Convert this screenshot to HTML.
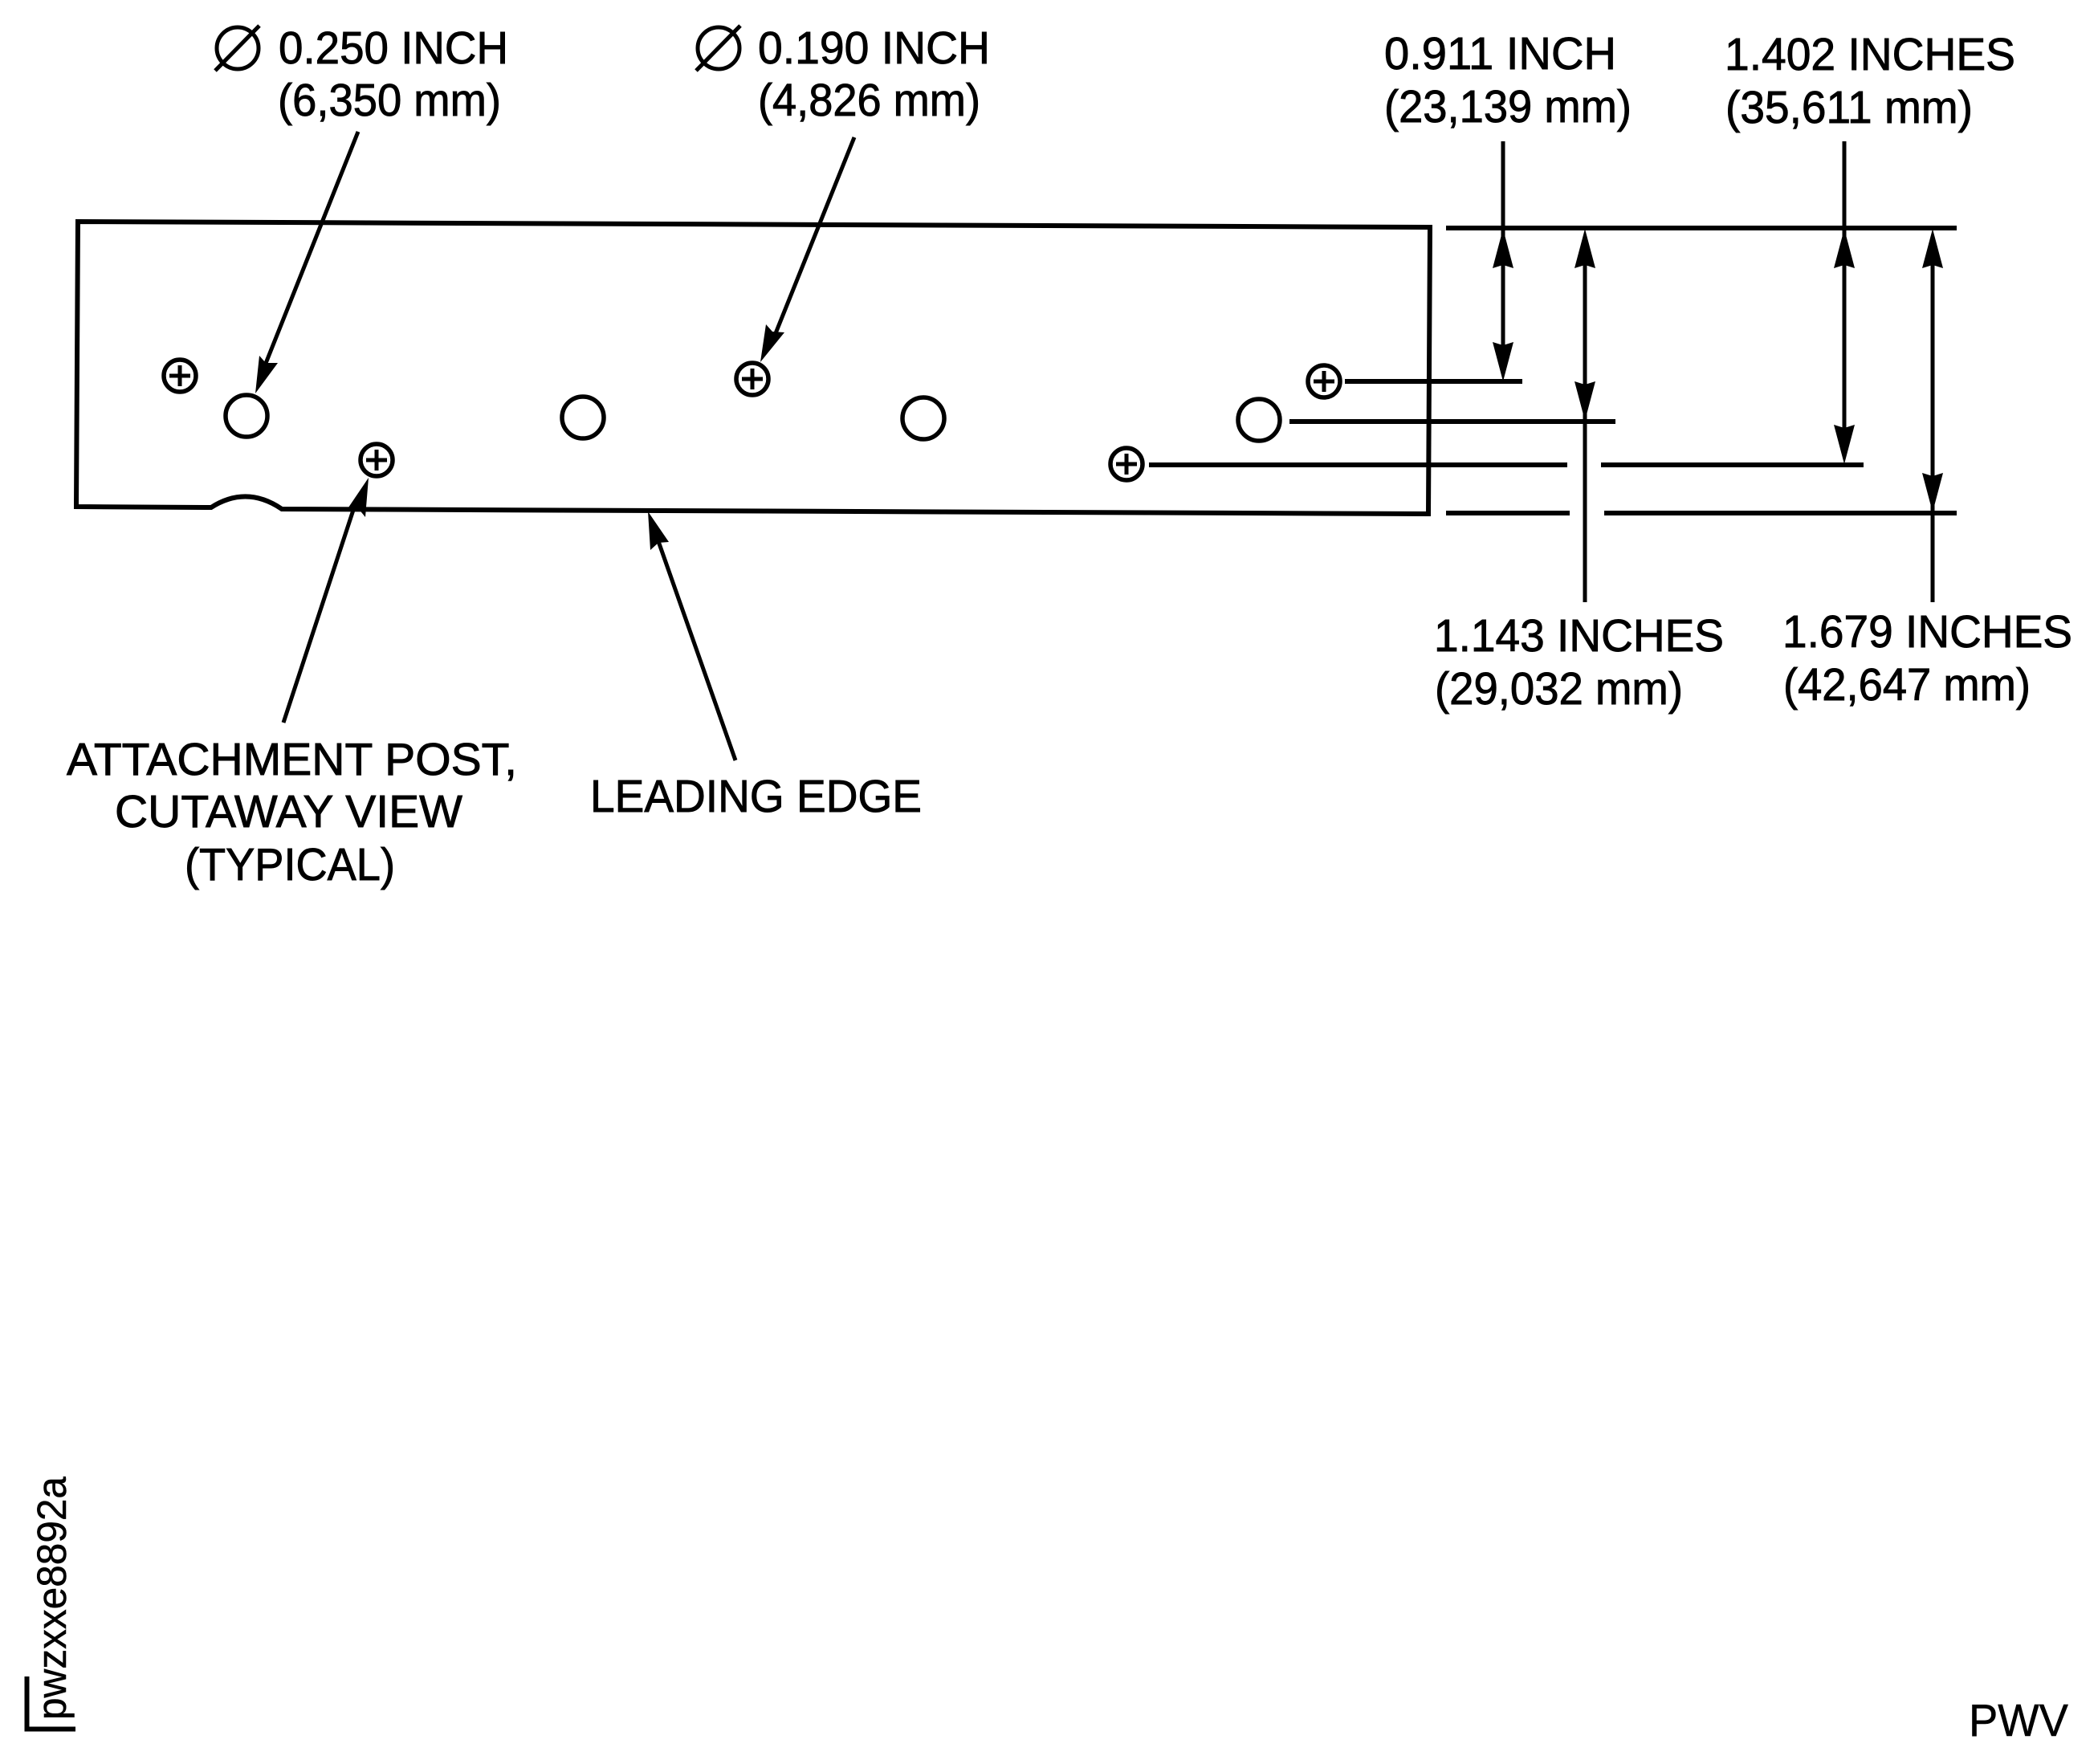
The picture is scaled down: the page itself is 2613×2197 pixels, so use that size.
<!DOCTYPE html>
<html><head><meta charset="utf-8"><style>
html,body{margin:0;padding:0;background:#fff}
svg{display:block}
text{font-family:"Liberation Sans",sans-serif;font-size:56.500px;fill:#000;stroke:#000;stroke-width:.9px}
</style></head><body>
<svg xmlns="http://www.w3.org/2000/svg" width="2613" height="2197" viewBox="0 0 2613 2197">
<rect width="2613" height="2197" fill="#fff"/>
<g fill="none" stroke="#000" stroke-width="6">
<path d="M97,276 L1781,283 L1779,640 L351,634 Q307,604 263,632 L95,631 Z"/>
<g stroke-width="5.500">
<circle cx="307" cy="518" r="26"/>
<circle cx="726" cy="520" r="26"/>
<circle cx="1150" cy="521" r="26"/>
<circle cx="1568" cy="523" r="26"/>
<circle cx="224" cy="468" r="20"/><circle cx="469" cy="573" r="20"/><circle cx="937" cy="472" r="20"/><circle cx="1649" cy="475" r="20"/><circle cx="1403" cy="578" r="20"/>
</g>
<path stroke-width="5" d="M211,468h26M224,455v26M456,573h26M469,560v26M924,472h26M937,459v26M1636,475h26M1649,462v26M1390,578h26M1403,565v26"/>
<path d="M1801,284H2437M1675,475H1896M1606,525H2012M1431,579H1952M1994,579H2321M1801,639H1955M1998,639H2437"/>
<path stroke-width="5" d="M1872,176V455M1974,305V750M2297,176V555M2407,305V750"/>
<path stroke-width="5" d="M446,164L328,460M1064,171L960,430M353,900L445,620M916,947L815,660"/>
<circle cx="296" cy="60" r="26" stroke-width="5"/><path stroke-width="5" d="M268,88L323,32"/>
<circle cx="895" cy="60" r="26" stroke-width="5"/><path stroke-width="5" d="M867,88L922,32"/>
<path d="M33.500,2088V2153.500H94"/>
</g>
<g fill="#000">
<polygon points="1872,285 1885,334 1872,330 1859,334"/>
<polygon points="1872,475 1885,426 1872,430 1859,426"/>
<polygon points="1974,285 1987,334 1974,330 1961,334"/>
<polygon points="1974,524 1987,475 1974,479 1961,475"/>
<polygon points="2297,285 2310,334 2297,330 2284,334"/>
<polygon points="2297,578 2310,529 2297,533 2284,529"/>
<polygon points="2407,285 2420,334 2407,330 2394,334"/>
<polygon points="2407,638 2420,589 2407,593 2394,589"/>
<polygon points="318,490 323,443 331,452 346,452"/>
<polygon points="947,451 954,404 962,413 977,414"/>
<polygon points="459,595 434,632 446,633 455,644"/>
<polygon points="807,637 810,685 820,676 833,675"/>
</g>
<text x="347" y="79" textLength="286" lengthAdjust="spacingAndGlyphs">0.250 INCH</text>
<text x="346" y="144" textLength="278" lengthAdjust="spacingAndGlyphs">(6,350 mm)</text>
<text x="944" y="79" textLength="289" lengthAdjust="spacingAndGlyphs">0.190 INCH</text>
<text x="944" y="144" textLength="277" lengthAdjust="spacingAndGlyphs">(4,826 mm)</text>
<text x="1724" y="86" textLength="289" lengthAdjust="spacingAndGlyphs">0.911 INCH</text>
<text x="1724" y="152" textLength="308" lengthAdjust="spacingAndGlyphs">(23,139 mm)</text>
<text x="2148" y="87" textLength="362" lengthAdjust="spacingAndGlyphs">1.402 INCHES</text>
<text x="2149" y="153" textLength="308" lengthAdjust="spacingAndGlyphs">(35,611 mm)</text>
<text x="1786" y="811" textLength="361" lengthAdjust="spacingAndGlyphs">1.143 INCHES</text>
<text x="1787" y="877" textLength="309" lengthAdjust="spacingAndGlyphs">(29,032 mm)</text>
<text x="2220" y="806" textLength="361" lengthAdjust="spacingAndGlyphs">1.679 INCHES</text>
<text x="2221" y="872" textLength="308" lengthAdjust="spacingAndGlyphs">(42,647 mm)</text>
<text x="83" y="965" textLength="561" lengthAdjust="spacingAndGlyphs">ATTACHMENT POST,</text>
<text x="143" y="1030" textLength="433" lengthAdjust="spacingAndGlyphs">CUTAWAY VIEW</text>
<text x="230" y="1096" textLength="262" lengthAdjust="spacingAndGlyphs">(TYPICAL)</text>
<text x="735" y="1011" textLength="413" lengthAdjust="spacingAndGlyphs">LEADING EDGE</text>
<text transform="translate(82,2142) rotate(-90)" style="font-size:51px;stroke-width:.5px" textLength="303" lengthAdjust="spacingAndGlyphs">pwzxxe8892a</text>
<text x="2452" y="2162" style="font-size:57px;stroke-width:.5px" textLength="124" lengthAdjust="spacingAndGlyphs">PWV</text>
</svg>
</body></html>
